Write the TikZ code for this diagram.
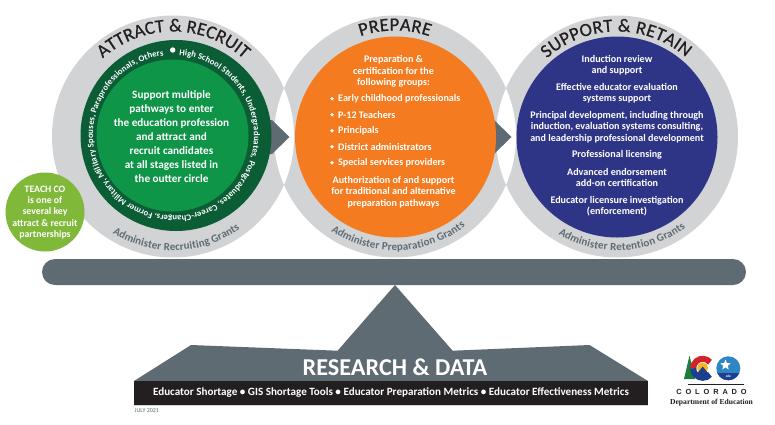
\documentclass[tikz,border=0pt]{standalone}
\usepackage{fontspec}
\setmainfont{Carlito}
\newfontfamily\serifbold{Liberation Serif}[BoldFont=Liberation Serif Bold]
\newfontfamily\sansbold{Liberation Sans}
\newfontfamily\titlefont{Carlito}[FakeBold=0.6]
\usetikzlibrary{decorations.text,shapes.geometric}
\definecolor{ringgray}{HTML}{D1D3D4}
\definecolor{slate}{HTML}{5F6B73}
\definecolor{darkgrn}{HTML}{0B5D36}
\definecolor{lightgrn}{HTML}{0F9548}
\definecolor{orangefill}{HTML}{F47B20}
\definecolor{bluefill}{HTML}{2E3587}
\definecolor{teachgrn}{HTML}{80B83A}
\definecolor{inkblack}{HTML}{231F20}
\definecolor{logored}{HTML}{D2232A}
\definecolor{logoblue}{HTML}{1D3F8F}
\definecolor{logosky}{HTML}{2F86C5}
\definecolor{logotree}{HTML}{1E7B3C}
\definecolor{logogold}{HTML}{F7B61B}
\tikzset{
  x=1pt,y=-1pt,
  disc/.style={circle,inner sep=0pt,minimum size=#1,draw=none},
  body/.style={text=white,font=\fontsize{10.1}{11.3}\selectfont\bfseries,align=center,inner sep=0pt},
  lead/.style={body,anchor=west},
  greenbody/.style={body,font=\fontsize{11.2}{14.1}\selectfont\bfseries},
  arrowtri/.style={fill=slate,draw=none},
  curved/.style={decorate,decoration={text along path,text align=fit to path,text={#1}}},
}
\newcommand{\titlefmt}{|\titlefont\fontsize{18.6}{20}\selectfont\color{inkblack}|}
\newcommand{\grantfmt}{|\fontsize{11}{12}\selectfont\bfseries\color{slate}|}
\newcommand{\ringfmt}{|\fontsize{8.7}{12}\selectfont\bfseries\color{white}|}
\begin{document}
\begin{tikzpicture}
\useasboundingbox (0,0) rectangle (775,424);
% grey discs
\node[disc=242pt,fill=ringgray] (g1) at (173,136.5) {};
\node[disc=242pt,fill=ringgray] (g2) at (395,136.5) {};
\node[disc=242pt,fill=ringgray] (g3) at (617,136.5) {};
% white lenses
\begin{scope}
  \clip (173,136.5) circle (121);
  \fill[white] (395,136.5) circle (121);
\end{scope}
\begin{scope}
  \clip (395,136.5) circle (121);
  \fill[white] (617,136.5) circle (121);
\end{scope}
% arrows
\fill[arrowtri] (262,120) -- (272,120) -- (289.5,137) -- (272,154) -- (262,154) -- cycle;
\fill[arrowtri] (484,120) -- (494,120) -- (511.5,137) -- (494,154) -- (484,154) -- cycle;
% inner discs
\node[disc=191pt,fill=darkgrn] (ring) at (176,135.5) {};
\node[disc=152pt,fill=lightgrn] (gc) at (172.5,135.5) {};
\node[disc=201pt,fill=orangefill] (oc) at (395.5,137) {};
\node[disc=201pt,fill=bluefill] (bc) at (617,137) {};
% teach
\node[disc=79pt,fill=teachgrn] (teach) at (45,212) {};
\node[body,font=\fontsize{9.8}{11.25}\selectfont\bfseries] (teacht) at (45,212.5) {TEACH CO\\is one of\\several key\\attract \& recruit\\partnerships};
% titles
\path[curved={\titlefmt ATTRACT {\&} RECRUIT}] (173,136.5) ++(228:105) arc[start angle=228,end angle=312,radius=105];
\path[curved={\titlefmt PREPARE}] (395,136.5) ++(251:106) arc[start angle=251,end angle=289,radius=106];
\path[curved={\titlefmt SUPPORT {\&} RETAIN}] (617,136.5) ++(228:105) arc[start angle=228,end angle=311,radius=105];
% grants
\path[curved={\grantfmt Administer Recruiting Grants}] (173,136.5) ++(122:114) arc[start angle=122,end angle=54,radius=114];
\path[curved={\grantfmt Administer Preparation Grants}] (395,136.5) ++(124:114) arc[start angle=124,end angle=52,radius=114];
\path[curved={\grantfmt Administer Retention Grants}] (617,136.5) ++(121:114) arc[start angle=121,end angle=53,radius=114];
% ring text
\path[curved={\ringfmt High School Students, Undergraduates, Postgraduates, Career-Changers, Former Military, Military Spouses, Paraprofessionals, Others}] (173.5,135.5) ++(274:80.5) arc[start angle=274,end angle=623,radius=80.5];
\node[disc=5.4pt,fill=white] (sep) at (172.7,50) {};
% green text
\node[greenbody] (gt) at (171.5,136.5) {Support multiple\\pathways to enter\\the education profession\\and attract and\\recruit candidates\\at all stages listed in\\the outter circle};
% orange text
\node[body] (o1) at (393.5,71.5) {Preparation \&\\certification for the\\following groups:};
\foreach \nm/\yy/\tx in {b1/98.7/Early childhood professionals,b2/114.7/P-12 Teachers,b3/130.7/Principals,b4/146.7/District administrators,b5/162.7/Special services providers}{
  \node[disc=3.6pt,fill=white] (d\nm) at (332,\yy) {};
  \node[lead] (\nm) at (338,\yy) {\tx};
}
\node[body] (o2) at (393.5,192) {Authorization of and support\\for traditional and alternative\\preparation pathways};
% blue text
\node[body] (t1) at (617,65.5) {Induction review\\and support};
\node[body] (t2) at (617,93.5) {Effective educator evaluation\\systems support};
\node[body] (t3) at (617,127) {Principal development, including through\\induction, evaluation systems consulting,\\and leadership professional development};
\node[body] (t4) at (617,155) {Professional licensing};
\node[body] (t5) at (617,177.5) {Advanced endorsement\\add-on certification};
\node[body] (t6) at (617,206.5) {Educator licensure investigation\\(enforcement)};
% beam
\node[rectangle,rounded corners=13pt,fill=slate,minimum width=704pt,minimum height=26pt,inner sep=0pt] (beam) at (394,272) {};
% base
\fill[slate] (395,285) -- (452.6,350.7) -- (589.5,345) -- (648,381) -- (134,381) -- (191,345) -- (337.6,350.7) -- cycle;
\node[rectangle,fill=inkblack,minimum width=514pt,minimum height=24pt,inner sep=0pt] (band) at (391,393) {};
\fill[ringgray] (band.south west) rectangle ++(514,1);
\node[inner sep=0pt,text=white,font=\fontsize{24.2}{25}\selectfont\bfseries] (rd) at (395,367) {RESEARCH \& DATA};
\node[inner sep=0pt,text=white,font=\fontsize{11.1}{12}\selectfont\bfseries] (bt) at (391,393) {Educator Shortage • GIS Shortage Tools • Educator Preparation Metrics • Educator Effectiveness Metrics};
\node[inner sep=0pt,anchor=west,text=slate,font=\fontsize{6}{6}\selectfont] (date) at (134.5,411) {JULY 2021};
% logo
\fill[logotree] (689.5,355.5) -- (695,379) -- (684,379) -- cycle;
\draw[logored,line width=6pt] (702.7,368.3) ++(320:9.5) arc[start angle=320,end angle=180,radius=9.5];
\draw[logoblue,line width=6pt] (702.7,368.3) ++(180:9.5) arc[start angle=180,end angle=40,radius=9.5];
\fill[logogold] (702.7,368) circle (5.5);
\fill[logoblue] (695.5,375.5) -- (702.7,366.5) -- (710,375.5) -- cycle;
\fill[logosky] (728.3,368.3) circle (12);
\begin{scope}
  \clip (728.3,368.3) circle (12);
  \fill[logoblue] (715,373) rectangle (742,381);
\end{scope}
\node[star,star points=5,star point ratio=2.3,fill=white,inner sep=0pt,minimum size=11pt] (lstar) at (725.5,365) {};
\node[inner sep=0pt,text=white,font=\fontsize{3.5}{4}\selectfont\bfseries] (cde) at (728.3,376) {cde};
\coordinate (rl) at (688,384);
\coordinate (rr) at (744,384);
\draw[inkblack,line width=0.7pt] (rl) -- (rr);
\node[inner sep=0pt,text=inkblack,font=\sansbold\fontsize{7.4}{8}\selectfont\bfseries] (col) at (711.5,391.7) {C\hspace{3.9pt}O\hspace{3.9pt}L\hspace{3.9pt}O\hspace{3.9pt}R\hspace{3.9pt}A\hspace{3.9pt}D\hspace{3.9pt}O};
\node[inner sep=0pt,text=inkblack,font=\serifbold\fontsize{7.6}{9}\selectfont\bfseries] (dep) at (711.5,403) {Department of Education};
\end{tikzpicture}
\end{document}
